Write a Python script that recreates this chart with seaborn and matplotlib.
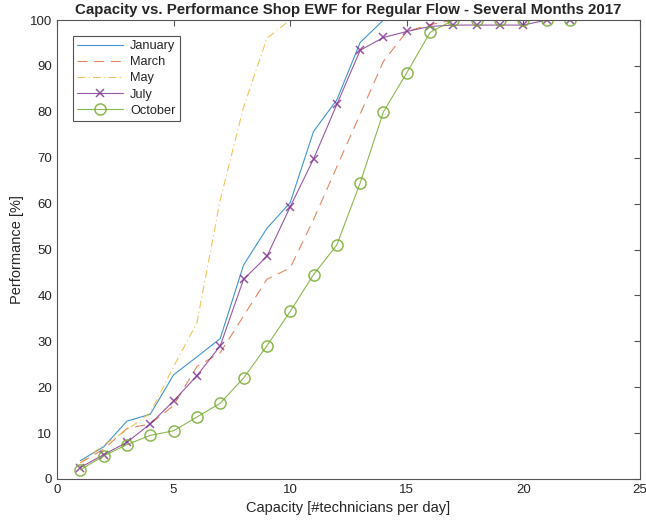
"""
Capacity vs. performance curves for shop EWF, several months of 2017.
"""

import matplotlib
matplotlib.use('Agg')
import matplotlib.pyplot as plt
import pandas as pd
import seaborn as sns

# capacity (technicians per day)
capacity = list(range(1, 23))

# performance [%] per month
january = [4.0, 7.0, 12.6, 14.1, 22.7, 26.6, 30.6, 46.6, 54.6, 60.2, 75.7, 82.6,
           95.1, 100, 100, 100, 100, 100, 100, 100, 100, 100]
march = [3.5, 6.5, 11.0, 12.0, 16.0, 24.5, 27.5, 35.5, 43.5, 46.0, 56.5, 68.0,
         79.5, 91.0, 97.5, 99.0, 100, 100, 100, 100, 100, 100]
may = [3.5, 7.4, 10.7, 14.4, 24.5, 34.0, 60.8, 81.0, 96.0, 100, 100, 100,
       100, 100, 100, 100, 100, 100, 100, 100, 100, 100]
july = [2.5, 5.3, 8.0, 12.0, 17.0, 22.5, 29.0, 43.5, 48.5, 59.3, 69.7, 81.6,
        93.4, 96.2, 97.5, 98.6, 98.9, 98.9, 98.9, 98.9, 100, 100]
october = [2.0, 5.0, 7.5, 9.5, 10.5, 13.5, 16.5, 22.0, 29.0, 36.5, 44.5, 51.0,
           64.5, 80.0, 88.5, 97.3, 100, 100, 100, 100, 100, 100]

months = ['January', 'March', 'May', 'July', 'October']
values = [january, march, may, july, october]


def capacityPlot():
    sns.set_style('white')
    plt.rcParams['font.family'] = ['Liberation Sans', 'DejaVu Sans']

    df = pd.DataFrame({'capacity': capacity})
    for name, vals in zip(months, values):
        df[name] = vals

    f = plt.figure(figsize=(6.46, 5.24), dpi=100)
    ax = f.add_axes([0.0882, 0.0859, 0.9025, 0.8759])

    # matlab default colour order
    styles = {
        'January': dict(color='#0072BD', linestyle='-', marker='', alpha=0.75),
        'March': dict(color='#D95319', linestyle=(0, (9, 6)), alpha=0.7, marker=''),
        'May': dict(color='#EDB120', linestyle=(0, (7, 3, 1, 3)), alpha=0.75, marker=''),
        'July': dict(color='#7E2F8E', linestyle='-', marker='x', markersize=6,
                     markeredgewidth=1.1, markeredgecolor='#7E2F8E', alpha=0.8),
        'October': dict(color='#77AC30', linestyle='-', marker='o', markersize=8,
                        markerfacecolor='none', markeredgecolor='#77AC30',
                        markeredgewidth=1.1, alpha=0.85),
    }

    handles = []
    for name in months:
        sns.lineplot(x='capacity', y=name, data=df, ax=ax, linewidth=0.8)
        line = ax.lines[-1]
        line.set(**styles[name])
        line.set_label(name)
        handles.append(line)

    ax.set_xlim(0, 25)
    ax.set_ylim(0, 100)
    ax.set_xticks(range(0, 26, 5))
    ax.set_yticks(range(0, 101, 10))
    ax.tick_params(direction='in', length=4, labelsize=9.5, color='#555555',
                   top=True, right=True, labelcolor='#262626')
    for s in ax.spines.values():
        s.set_color('#555555')
        s.set_linewidth(0.8)

    ax.set_title('Capacity vs. Performance Shop EWF for Regular Flow - Several Months 2017',
                 fontsize=10.8, fontweight='bold', pad=4)
    ax.set_xlabel('Capacity [#technicians per day]', fontsize=10.5, color='#262626')
    ax.set_ylabel('Performance [%]', fontsize=10.5, color='#262626')

    leg = ax.legend(handles=handles, labels=months, loc='upper left',
                    bbox_to_anchor=(0.016, 0.98), fontsize=9.2,
                    frameon=True, fancybox=False, handlelength=3.6,
                    borderpad=0.35, labelspacing=0.33, handletextpad=0.55)
    leg.get_frame().set_edgecolor('#262626')
    leg.get_frame().set_linewidth(0.8)

    f.savefig('out.png', dpi=100)


if __name__ == '__main__':
    capacityPlot()
